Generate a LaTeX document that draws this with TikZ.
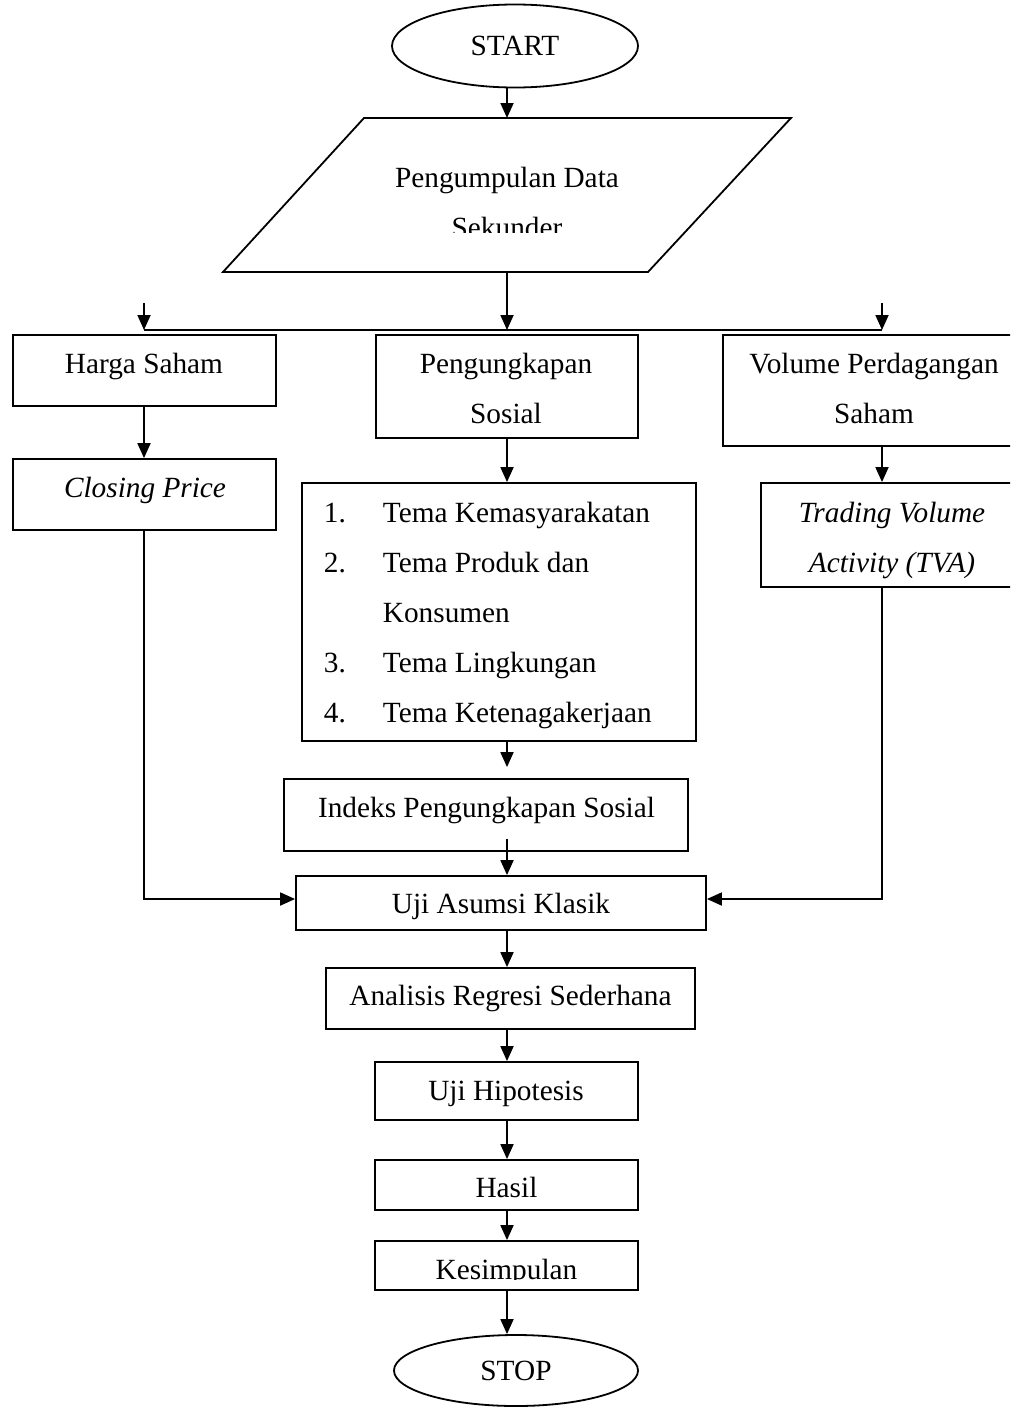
\documentclass[tikz,border=0pt]{standalone}
\usepackage{fontspec}
\setmainfont{Liberation Serif}
\usetikzlibrary{shapes.geometric,arrows.meta}
\newcommand\fsz{\fontsize{29.3pt}{50pt}\selectfont}
\begin{document}
\begin{tikzpicture}[x=1pt,y=-1pt,
  line width=1.8pt,
  box/.style={draw, rectangle, inner sep=0pt, line width=1.8pt},
  term/.style={draw, ellipse, inner sep=0pt, line width=1.8pt, font=\fsz},
  lbl/.style={anchor=base, inner sep=0pt, font=\fsz},
  lblw/.style={anchor=base west, inner sep=0pt, font=\fsz},
  arr/.style={-{Triangle[length=15pt,width=13pt]}, line width=1.8pt}]
\useasboundingbox (0,0) rectangle (1010,1408);
\clip (0,0) rectangle (1010,1408);

% column coordinates
\coordinate (colx) at (507,0);
\coordinate (colR) at (882,0);
\coordinate (colL) at (144,0);

% terminals
\node[term, minimum width=246pt, minimum height=83pt] (start) at (515,46) {START};
\node[term, minimum width=244pt, minimum height=71pt] (stop) at (516,1370.5) {STOP};

% input parallelogram
\coordinate (p1) at (364,118);
\coordinate (p2) at (791,118);
\coordinate (p3) at (648,272);
\coordinate (p4) at (223,272);
\draw (p1) -- (p2) -- (p3) -- (p4) -- cycle;
\coordinate (ptop) at (507,118);
\coordinate (pbot) at (507,272);
\node[lbl] (tpd1) at (507,187) {Pengumpulan Data};
\begin{scope}
  \clip (200,118) rectangle (800,232);
  \node[lbl] (tpd2) at (507,237) {Sekunder};
\end{scope}

% bus
\coordinate (busL) at (144,330);
\coordinate (busM) at (507,330);
\coordinate (busR) at (882,330);
\coordinate (inL) at (144,303);
\coordinate (inR) at (882,303);
\draw (busL) -- (busR);

% boxes
\node[box, minimum width=263pt, minimum height=71pt] (harga) at (144.5,370.5) {};
\node[box, minimum width=262pt, minimum height=103pt] (peng) at (507,386.5) {};
\node[box, minimum width=302pt, minimum height=111pt] (vol) at (874,390.5) {};
\node[box, minimum width=263pt, minimum height=71pt] (closing) at (144.5,494.5) {};
\node[box, minimum width=394pt, minimum height=258pt] (list) at (499,612) {};
\node[box, minimum width=262pt, minimum height=104pt] (tva) at (892,535) {};
\node[box, minimum width=404pt, minimum height=72pt] (indeks) at (486,815) {};
\node[box, minimum width=410pt, minimum height=54pt] (uji) at (501,903) {};
\node[box, minimum width=369pt, minimum height=61pt] (anal) at (510.5,998.5) {};
\node[box, minimum width=263pt, minimum height=58pt] (hipo) at (506.5,1091) {};
\node[box, minimum width=263pt, minimum height=50pt] (hasil) at (506.5,1185) {};
\node[box, minimum width=263pt, minimum height=49pt] (kes) at (506.5,1265.5) {};

% texts
\node[lbl] (t1) at (144,373) {Harga Saham};
\node[lbl] (t2) at (506,373) {Pengungkapan};
\node[lbl] (t3) at (506,423) {Sosial};
\node[lbl] (t4) at (874,373) {Volume Perdagangan};
\node[lbl] (t5) at (874,423) {Saham};
\node[lbl] (t6) at (145,497) {\itshape Closing Price};
\node[lblw] (n1) at (323,522) {1.};
\node[lblw] (l1) at (382,522) {Tema Kemasyarakatan};
\node[lblw] (n2) at (323,572) {2.};
\node[lblw] (l2) at (382,572) {Tema Produk dan};
\node[lblw] (l2b) at (382,622) {Konsumen};
\node[lblw] (n3) at (323,672) {3.};
\node[lblw] (l3) at (382,672) {Tema Lingkungan};
\node[lblw] (n4) at (323,722) {4.};
\node[lblw] (l4) at (382,722) {Tema Ketenagakerjaan};
\node[lbl] (t7) at (892,522) {\itshape Trading Volume};
\node[lbl] (t8) at (892,572) {\itshape Activity (TVA)};
\node[lbl] (t9) at (486.5,817) {Indeks Pengungkapan Sosial};
\node[lbl] (t10) at (501,913) {Uji Asumsi Klasik};
\node[lbl] (t11) at (510.5,1005) {Analisis Regresi Sederhana};
\node[lbl] (t12) at (506,1100) {Uji Hipotesis};
\node[lbl] (t13) at (506.5,1197) {Hasil};
\begin{scope}
  \clip (380,1242) rectangle (636,1279.5);
  \node[lbl] (t14) at (506.5,1279) {Kesimpulan};
\end{scope}

% connectors
\draw[arr] (start.south -| colx) -- (ptop);
\draw[arr] (pbot) -- (busM);
\draw[arr] (inL) -- (busL);
\draw[arr] (inR) -- (busR);
\draw[arr] (harga.south -| colL) -- (closing.north -| colL);
\draw[arr] (peng.south -| colx) -- (list.north -| colx);
\draw[arr] (vol.south -| colR) -- (tva.north -| colR);
\draw[arr, shorten >=11pt] (list.south -| colx) -- (indeks.north -| colx);
\draw[arr, shorten <=-13pt] (indeks.south -| colx) -- (uji.north -| colx);
\draw[arr] (closing.south -| colL) |- ([yshift=4pt]uji.west);
\draw[arr] (tva.south -| colR) |- ([yshift=4pt]uji.east);
\draw[arr] (uji.south -| colx) -- (anal.north -| colx);
\draw[arr] (anal.south -| colx) -- (hipo.north -| colx);
\draw[arr] (hipo.south -| colx) -- (hasil.north -| colx);
\draw[arr] (hasil.south -| colx) -- (kes.north -| colx);
\draw[arr] (kes.south -| colx) -- (stop.north -| colx);
\end{tikzpicture}
\end{document}
